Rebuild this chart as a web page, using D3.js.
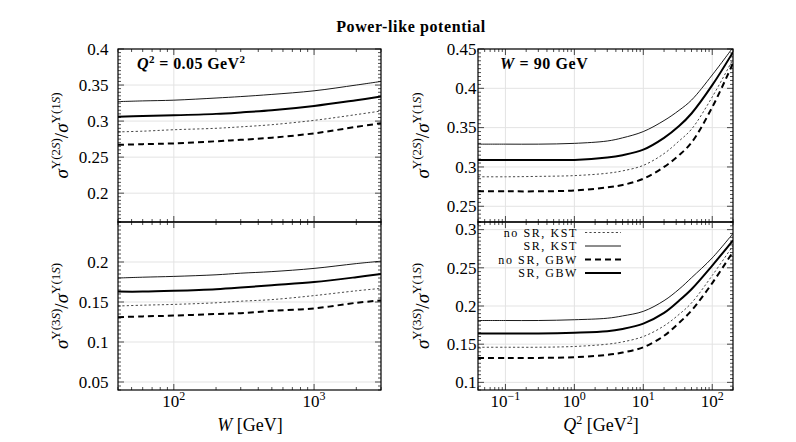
<!DOCTYPE html>
<html lang="en">
<head>
  <meta charset="UTF-8">
  <title>Power-like potential</title>
  <script src="https://cdn.jsdelivr.net/npm/d3@7"></script>
  <style>
    body { margin: 0; background: #fff; }
    text { font-family: "Liberation Serif", "DejaVu Serif", serif; fill: #000; }
  </style>
</head>
<body>
<svg id="chart" width="796" height="442"></svg>
<script>
  // W scan at Q^2 = 0.05 GeV^2
  const wVals = [40, 60, 100, 200, 300, 500, 1000, 2000, 3000];
  const w2s_noSrKst = [0.285, 0.286, 0.288, 0.290, 0.292, 0.295, 0.301, 0.309, 0.314];
  const w2s_srKst   = [0.327, 0.328, 0.329, 0.332, 0.334, 0.337, 0.342, 0.350, 0.355];
  const w2s_noSrGbw = [0.267, 0.268, 0.269, 0.272, 0.274, 0.277, 0.283, 0.292, 0.297];
  const w2s_srGbw   = [0.306, 0.307, 0.308, 0.310, 0.312, 0.315, 0.321, 0.329, 0.334];
  const w3s_noSrKst = [0.145, 0.146, 0.147, 0.149, 0.151, 0.153, 0.158, 0.164, 0.167];
  const w3s_srKst   = [0.180, 0.181, 0.182, 0.184, 0.186, 0.188, 0.192, 0.198, 0.201];
  const w3s_noSrGbw = [0.131, 0.132, 0.133, 0.135, 0.136, 0.139, 0.142, 0.149, 0.152];
  const w3s_srGbw   = [0.163, 0.163, 0.164, 0.166, 0.168, 0.171, 0.175, 0.181, 0.185];

  // Q^2 scan at W = 90 GeV
  const q2Vals = [0.04, 0.1, 0.3, 1, 3, 5, 10, 20, 33, 50, 100, 200];
  const q2s_noSrKst = [0.2875, 0.2875, 0.288, 0.289, 0.292, 0.295, 0.302, 0.317, 0.333, 0.348, 0.389, 0.437];
  const q2s_srKst   = [0.329, 0.329, 0.329, 0.330, 0.333, 0.337, 0.345, 0.359, 0.372, 0.385, 0.417, 0.452];
  const q2s_noSrGbw = [0.269, 0.269, 0.269, 0.270, 0.274, 0.277, 0.285, 0.300, 0.315, 0.331, 0.376, 0.432];
  const q2s_srGbw   = [0.309, 0.309, 0.309, 0.309, 0.312, 0.315, 0.322, 0.337, 0.352, 0.368, 0.404, 0.446];
  const q3s_noSrKst = [0.146, 0.146, 0.146, 0.147, 0.150, 0.153, 0.160, 0.174, 0.189, 0.204, 0.240, 0.279];
  const q3s_srKst   = [0.181, 0.181, 0.181, 0.182, 0.184, 0.187, 0.193, 0.207, 0.222, 0.237, 0.263, 0.295];
  const q3s_noSrGbw = [0.132, 0.132, 0.132, 0.133, 0.136, 0.139, 0.146, 0.161, 0.178, 0.194, 0.230, 0.271];
  const q3s_srGbw   = [0.164, 0.164, 0.164, 0.165, 0.167, 0.170, 0.177, 0.191, 0.207, 0.222, 0.253, 0.286];

  const seriesNames = ["no SR, KST", "SR, KST", "no SR, GBW", "SR, GBW"];
  const styles = {
    "no SR, KST": { width: 0.9, dash: "2.2,2.2", color: "#333" },
    "SR, KST":    { width: 0.9, dash: null, color: "#000" },
    "no SR, GBW": { width: 2.0, dash: "6,4", color: "#000" },
    "SR, GBW":    { width: 2.0, dash: null, color: "#000" }
  };

  const svg = d3.select("#chart");

  const left = [118, 381], right = [478, 733];
  const topY = [49, 222], botY = [222, 390];

  const xW = d3.scaleLog().domain([40, 3000]).range(left);
  const xQ = d3.scaleLog().domain([0.04, 200]).range(right);

  const panels = [
    { x: xW, xs: wVals, yDom: [0.16, 0.4], yr: topY, yTicks: [0.2, 0.25, 0.3, 0.35, 0.4], labX: 108.5,
      data: [w2s_noSrKst, w2s_srKst, w2s_noSrGbw, w2s_srGbw], state: "2S" },
    { x: xW, xs: wVals, yDom: [0.04, 0.25], yr: botY, yTicks: [0.05, 0.1, 0.15, 0.2], labX: 108.5,
      data: [w3s_noSrKst, w3s_srKst, w3s_noSrGbw, w3s_srGbw], state: "3S", bottom: true },
    { x: xQ, xs: q2Vals, yDom: [0.23, 0.45], yr: topY, yTicks: [0.25, 0.3, 0.35, 0.4, 0.45], labX: 476.5,
      data: [q2s_noSrKst, q2s_srKst, q2s_noSrGbw, q2s_srGbw], state: "2S" },
    { x: xQ, xs: q2Vals, yDom: [0.09, 0.31], yr: botY, yTicks: [0.1, 0.15, 0.2, 0.25, 0.3], labX: 476.5,
      data: [q3s_noSrKst, q3s_srKst, q3s_noSrGbw, q3s_srGbw], state: "3S", bottom: true, legend: true }
  ];

  function fmtTick(v) {
    return String(+v.toFixed(3));
  }

  function logTicks(scale) {
    const [a, b] = scale.domain();
    const major = [], minor = [];
    for (let e = Math.floor(Math.log10(a)); e <= Math.ceil(Math.log10(b)); e++) {
      for (let m = 1; m < 10; m++) {
        const v = m * Math.pow(10, e);
        if (v < a * 0.999 || v > b * 1.001) continue;
        if (m === 1) major.push(v); else minor.push(v);
      }
    }
    return { major, minor };
  }

  panels.forEach(p => {
    const y = d3.scaleLinear().domain(p.yDom).range([p.yr[1], p.yr[0]]);
    const [x0, x1] = p.x.range();
    const g = svg.append("g");
    const clipId = "clip" + Math.round(x0) + "_" + p.yr[0];
    svg.append("clipPath").attr("id", clipId).append("rect")
      .attr("x", x0).attr("y", p.yr[0]).attr("width", x1 - x0).attr("height", p.yr[1] - p.yr[0]);

    const lt = logTicks(p.x);

    // grid
    g.selectAll(".gx").data(lt.major).enter().append("line")
      .attr("x1", d => p.x(d)).attr("x2", d => p.x(d))
      .attr("y1", p.yr[0]).attr("y2", p.yr[1])
      .attr("stroke", "#e3e3e3").attr("stroke-width", 1);
    g.selectAll(".gy").data(p.yTicks).enter().append("line")
      .attr("x1", x0).attr("x2", x1)
      .attr("y1", d => y(d)).attr("y2", d => y(d))
      .attr("stroke", "#e3e3e3").attr("stroke-width", 1);

    // curves
    const line = d3.line()
      .x(d => p.x(d[0])).y(d => y(d[1]))
      .curve(d3.curveCatmullRom.alpha(0.5));
    p.data.forEach((vals, i) => {
      const st = styles[seriesNames[i]];
      g.append("path")
        .attr("clip-path", "url(#" + clipId + ")")
        .attr("d", line(p.xs.map((xv, j) => [xv, vals[j]])))
        .attr("fill", "none")
        .attr("stroke", st.color)
        .attr("stroke-width", st.width)
        .attr("stroke-dasharray", st.dash);
    });

    // y ticks (major + minor every 0.005)
    const minorY = [];
    for (let k = Math.ceil(p.yDom[0] / 0.005 - 1e-6); k * 0.005 <= p.yDom[1] + 1e-9; k++) minorY.push(k * 0.005);
    const tk = g.append("g").attr("stroke", "#000").attr("stroke-width", 0.7);
    minorY.forEach(v => {
      const isMajor = p.yTicks.some(t => Math.abs(t - v) < 1e-6);
      const len = isMajor ? 6 : 3;
      tk.append("line").attr("x1", x0).attr("x2", x0 + len).attr("y1", y(v)).attr("y2", y(v));
      tk.append("line").attr("x1", x1).attr("x2", x1 - len).attr("y1", y(v)).attr("y2", y(v));
    });
    // x ticks
    [[lt.major, 6], [lt.minor, 3]].forEach(([vals, len]) => {
      vals.forEach(v => {
        tk.append("line").attr("x1", p.x(v)).attr("x2", p.x(v)).attr("y1", p.yr[1]).attr("y2", p.yr[1] - len);
        tk.append("line").attr("x1", p.x(v)).attr("x2", p.x(v)).attr("y1", p.yr[0]).attr("y2", p.yr[0] + len);
      });
    });

    // frame
    g.append("rect").attr("x", x0).attr("y", p.yr[0])
      .attr("width", x1 - x0).attr("height", p.yr[1] - p.yr[0])
      .attr("fill", "none").attr("stroke", "#000").attr("stroke-width", 1.2);

    // y tick labels
    g.selectAll(".yl").data(p.yTicks).enter().append("text")
      .attr("x", p.labX).attr("y", d => y(d)).attr("dy", "0.34em")
      .attr("text-anchor", "end").style("font-size", "17px")
      .text(fmtTick);

    // x tick labels
    if (p.bottom) {
      lt.major.forEach(v => {
        const e = Math.round(Math.log10(v));
        const t = g.append("text").attr("x", p.x(v)).attr("y", 407)
          .attr("text-anchor", "middle").style("font-size", "17px");
        t.append("tspan").text("10");
        t.append("tspan").attr("dy", -7).style("font-size", "12px")
          .text(e < 0 ? "\u2212" + (-e) : String(e));
      });
    }

    // y axis label
    const lx = x0 < 300 ? 68 : 429;
    const cy = (p.yr[0] + p.yr[1]) / 2;
    const yl = svg.append("text")
      .attr("transform", `translate(${lx},${cy}) rotate(-90)`)
      .attr("text-anchor", "middle").style("font-size", "19px");
    yl.append("tspan").style("font-style", "italic").text("σ");
    yl.append("tspan").attr("dy", -8).style("font-size", "13px").text("Υ(" + p.state.charAt(0));
    yl.append("tspan").style("font-size", "13px").style("font-style", "italic").text("S");
    yl.append("tspan").style("font-size", "13px").text(")");
    yl.append("tspan").attr("dy", 8).text("/");
    yl.append("tspan").style("font-style", "italic").text("σ");
    yl.append("tspan").attr("dy", -8).style("font-size", "13px").text("Υ(1");
    yl.append("tspan").style("font-size", "13px").style("font-style", "italic").text("S");
    yl.append("tspan").style("font-size", "13px").text(")");

    // legend
    if (p.legend) {
      const lg = svg.append("g");
      const rowY = [232.5, 246, 259.5, 273];
      seriesNames.forEach((name, i) => {
        const st = styles[name];
        lg.append("line").attr("x1", 585).attr("x2", 621)
          .attr("y1", rowY[i]).attr("y2", rowY[i])
          .attr("stroke", st.color).attr("stroke-width", st.width)
          .attr("stroke-dasharray", st.dash);
        lg.append("text").attr("x", 578).attr("y", rowY[i] + 4.2)
          .attr("text-anchor", "end").style("font-size", "12px").style("letter-spacing", "1.6px")
          .text(name);
      });
    }
  });

  // panel annotations
  const a1 = svg.append("text").attr("x", 137).attr("y", 69)
    .style("font-size", "16px").style("font-weight", "bold").style("letter-spacing", "0.4px");
  a1.append("tspan").style("font-style", "italic").text("Q");
  a1.append("tspan").attr("dy", -6).style("font-size", "11px").text("2");
  a1.append("tspan").attr("dy", 6).text(" = 0.05 GeV");
  a1.append("tspan").attr("dy", -6).style("font-size", "11px").text("2");

  const a2 = svg.append("text").attr("x", 500).attr("y", 69)
    .style("font-size", "16px").style("font-weight", "bold").style("letter-spacing", "0.6px");
  a2.append("tspan").style("font-style", "italic").text("W");
  a2.append("tspan").text(" = 90 GeV");

  // title
  svg.append("text").attr("x", 411).attr("y", 32).attr("text-anchor", "middle")
    .style("font-size", "16px").style("font-weight", "bold").style("letter-spacing", "0.6px")
    .text("Power-like potential");

  // x axis titles
  const xt1 = svg.append("text").attr("x", 250).attr("y", 431).attr("text-anchor", "middle").style("font-size", "18px");
  xt1.append("tspan").style("font-style", "italic").text("W");
  xt1.append("tspan").text("  [GeV]");

  const xt2 = svg.append("text").attr("x", 601).attr("y", 431).attr("text-anchor", "middle").style("font-size", "18px");
  xt2.append("tspan").style("font-style", "italic").text("Q");
  xt2.append("tspan").attr("dy", -7).style("font-size", "12px").text("2");
  xt2.append("tspan").attr("dy", 7).text("  [GeV");
  xt2.append("tspan").attr("dy", -7).style("font-size", "12px").text("2");
  xt2.append("tspan").attr("dy", 7).text("]");
</script>
</body>
</html>
